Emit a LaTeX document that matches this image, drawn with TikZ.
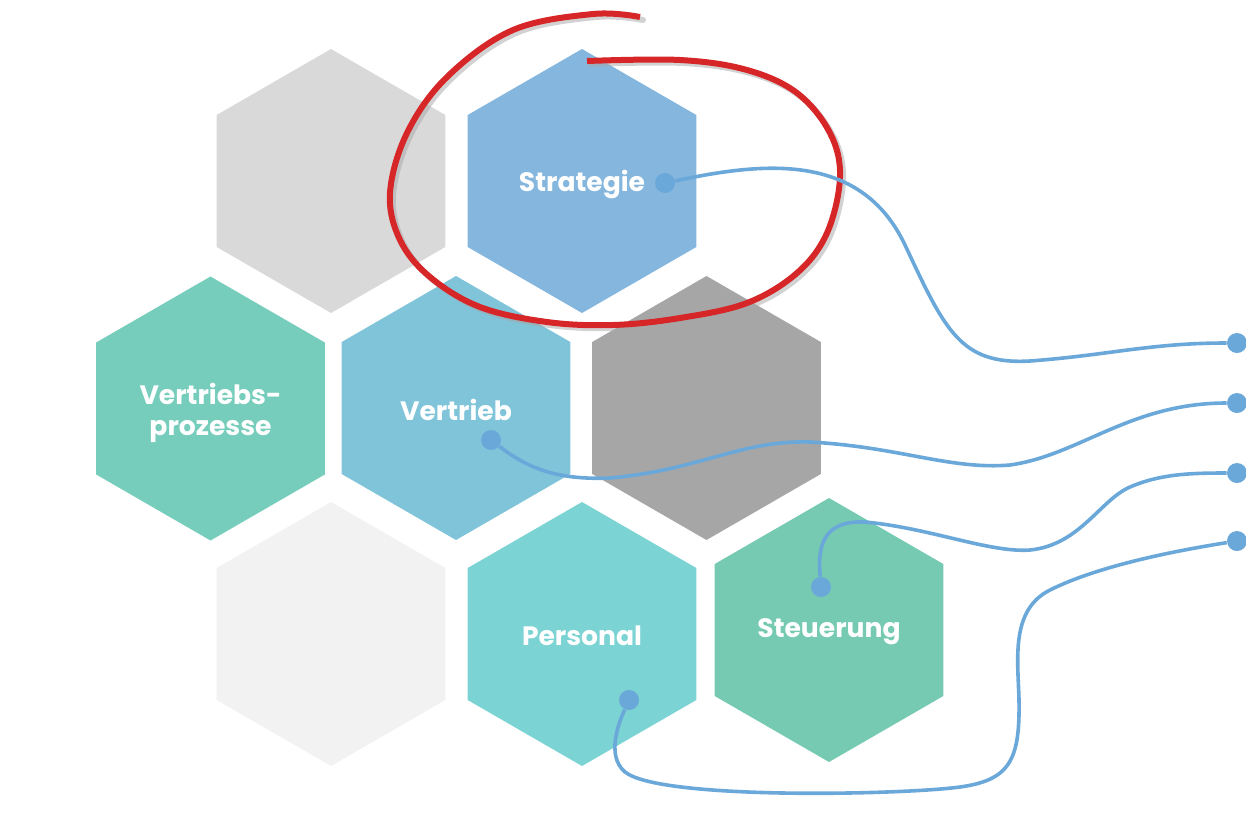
\documentclass[tikz,border=0pt]{standalone}
\usepackage{fontspec}
\setmainfont{Poppins}
\usetikzlibrary{shapes.geometric}
\definecolor{hexgray}{HTML}{D9D9D9}
\definecolor{hexdark}{HTML}{A6A6A6}
\definecolor{hexpale}{HTML}{F2F2F2}
\definecolor{hexblue}{HTML}{85B7DE}
\definecolor{hexsky}{HTML}{80C4DA}
\definecolor{hexteal}{HTML}{77CDBC}
\definecolor{hexcyan}{HTML}{7BD3D4}
\definecolor{hexgreen}{HTML}{76CAB2}
\definecolor{linkblue}{HTML}{6BA8DA}
\definecolor{markred}{HTML}{D62628}

\begin{document}
\begin{tikzpicture}[x=0.5pt, y=-0.5pt,
    hexa/.style={regular polygon, regular polygon sides=6, shape border rotate=30,
        minimum size=132pt, inner sep=0pt},
    hexlabel/.style={text=white, align=center,
        font=\fontsize{13.3}{15.5}\selectfont\bfseries},
    pin/.style={circle, fill=linkblue, inner sep=0pt, minimum size=10pt},
    link/.style={linkblue, line width=1.8pt}]
    \useasboundingbox (0,0) rectangle (1246,836);

    % Honeycomb
    \node[hexa, fill=hexgray]  (topleft)    at (331,181) {};
    \node[hexa, fill=hexblue]  (strategie)  at (582,181) {};
    \node[hexa, fill=hexteal]  (prozesse)   at (210.5,408.5) {};
    \node[hexa, fill=hexsky]   (vertrieb)   at (456,408) {};
    \node[hexa, fill=hexdark]  (midright)   at (706.5,408) {};
    \node[hexa, fill=hexpale]  (botleft)    at (331,634) {};
    \node[hexa, fill=hexcyan]  (personal)   at (582,634) {};
    \node[hexa, fill=hexgreen] (steuerung)  at (829,630) {};

    % Labels
    \node[hexlabel] (tS) at ([yshift=-1.5pt]strategie) {Strategie};
    \node[hexlabel] (tR) at ([yshift=-2pt]prozesse) {Vertriebs-\\prozesse};
    \node[hexlabel] (tV) at ([yshift=-1pt]vertrieb) {Vertrieb};
    \node[hexlabel] (tP) at ([yshift=-1pt]personal) {Personal};
    \node[hexlabel] (tT) at ([yshift=-1pt]steuerung) {Steuerung};

    % Hand-drawn marker round Strategie
    \draw[black!35, opacity=0.5, line width=3pt, line cap=round, shift={(3,3)}]
        plot[smooth, tension=0.6] coordinates {(640,17) (593,14) (513,30) (447,77) (407,133) (390,193) (400,240) (430,277) (480,307) (547,322) (613,325) (680,318) (747,303) (797,273) (827,233) (840,177) (830,133) (797,93) (747,70) (680,60) (587,61)};
    \draw[markred, line width=3pt]
        plot[smooth, tension=0.6] coordinates {(640,17) (593,14) (513,30) (447,77) (407,133) (390,193) (400,240) (430,277) (480,307) (547,322) (613,325) (680,318) (747,303) (797,273) (827,233) (840,177) (830,133) (797,93) (747,70) (680,60) (587,61)};

    % Pins
    \node[pin] (pS) at (665,183) {};
    \node[pin] (pV) at (491,440) {};
    \node[pin] (pT) at (821,587) {};
    \node[pin] (pP) at (629,700) {};
    \node[pin] (e1) at (1237,343) {};
    \node[pin] (e2) at (1237,403) {};
    \node[pin] (e3) at (1237,473) {};
    \node[pin] (e4) at (1237,541) {};

    % Connectors
    \draw[link] (pS) .. controls (760,163) and (860,150) .. (905,245)
        .. controls (945,330) and (960,365) .. (1030,361)
        .. controls (1110,355) and (1150,343) .. (e1);
    \draw[link] (pV) .. controls (530,470) and (560,480) .. (610,478)
        .. controls (700,470) and (740,440) .. (810,442)
        .. controls (900,447) and (950,470) .. (1010,465)
        .. controls (1080,455) and (1130,403) .. (e2);
    \draw[link] (pT) .. controls (818,550) and (820,520) .. (865,522)
        .. controls (930,528) and (990,553) .. (1030,550)
        .. controls (1080,545) and (1100,500) .. (1130,487)
        .. controls (1160,474) and (1190,473) .. (e3);
    \draw[link] (pP) .. controls (620,720) and (605,755) .. (625,772)
        .. controls (660,800) and (900,795) .. (960,787)
        .. controls (1010,780) and (1020,760) .. (1019,700)
        .. controls (1018,660) and (1010,610) .. (1050,590)
        .. controls (1100,565) and (1180,550) .. (e4);
\end{tikzpicture}
\end{document}
